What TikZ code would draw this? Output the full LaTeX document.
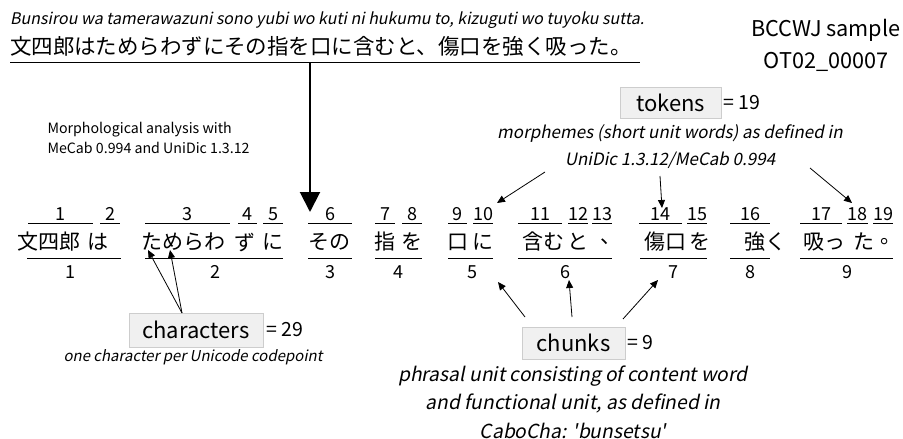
\documentclass[tikz,border=0pt]{standalone}
\usepackage{fontspec}
\setmainfont{Noto Sans CJK JP}[AutoFakeSlant=0.2]
\usepackage{tikz}
\usetikzlibrary{
    arrows.meta,
    positioning
}
\definecolor{unitfill}{RGB}{240,240,240}
\definecolor{unitline}{RGB}{205,205,205}

\begin{document}
\begin{tikzpicture}[
        x=1pt, y=-1pt,
        unit/.style={
            draw=unitline,
            fill=unitfill,
            inner sep=0pt,
            font=\fontsize{22}{24}\selectfont
        },
        count/.style={
            anchor=west,
            inner sep=0pt,
            font=\fontsize{19.5}{20}\selectfont
        },
        note/.style={
            align=center,
            inner sep=0pt,
            font=\fontsize{17}{27}\selectfont\itshape
        },
        idx/.style={
            inner sep=0pt,
            font=\fontsize{18}{20}\selectfont
        },
        word/.style={
            inner sep=0pt,
            font=\fontsize{21}{24}\selectfont
        },
        rule/.style={
            line width=1pt
        },
        pointer/.style={
            -{Triangle[length=8pt,width=7pt]},
            line width=0.8pt
        }
    ]
    \useasboundingbox (0,0) rectangle (903,439);

    % source sentence
    \node[anchor=west, inner sep=0pt, font=\fontsize{16}{18}\selectfont\itshape] (romaji) at (10,20)
        {Bunsirou wa tamerawazuni sono yubi wo kuti ni hukumu to, kizuguti wo tuyoku sutta.};
    \node[anchor=west, inner sep=0pt, font=\fontsize{21.5}{24}\selectfont] (sentence) at (10,46)
        {文四郎はためらわずにその指を口に含むと、傷口を強く吸った。};
    \coordinate (ulstart) at (10,62);
    \coordinate (ulend) at (640,62);
    \draw[rule] (ulstart) -- (ulend);

    \node[align=center, font=\fontsize{21.7}{32}\selectfont] (corpus) at (826,45)
        {BCCWJ sample\\OT02\_00007};

    \node[anchor=west, align=left, font=\fontsize{14.2}{20}\selectfont] (mecab) at (44,138)
        {Morphological analysis with\\MeCab 0.994 and UniDic 1.3.12};

    \coordinate (split) at (310,62);
    \coordinate (rowtop) at (310,212);
    \draw[line width=2pt, -{Triangle[length=20pt,width=20pt]}] (split) -- (rowtop);

    % tokens: line from, line to, text centre, text
    \foreach \i/\a/\b/\wx/\w in {
            1/28/93/49/文四郎, 2/100/120/98/は, 3/145/230/183/ためらわ,
            4/238/257/245/ず, 5/263/283/273/に, 6/308/352/329/その,
            7/375/395/385/指, 8/402/422/412/を, 9/448/467/458/口,
            10/473/493/483/に, 11/518/562/543/含む, 12/568/588/578/と,
            13/592/612/611/、, 14/639/682/665/傷口, 15/687/707/700/を,
            16/730/770/765/強く, 17/800/842/824/吸っ, 18/847/868/864/た,
            19/873/893/891/。} {
        \draw[rule] (\a,223) -- (\b,223);
        \node[idx] (n\i) at ({(\a+\b)/2},214) {\i};
        \node[word] (w\i) at (\wx,242) {\w};
    }

    % chunks
    \foreach \i/\a/\b/\cx in {
            1/27/121/70, 2/145/283/215, 3/308/352/330,
            4/375/422/398, 5/448/493/472, 6/518/612/565,
            7/640/707/673, 8/730/770/750, 9/800/893/847} {
        \draw[rule] (\a,258) -- (\b,258);
        \node[idx] (c\i) at (\cx,272) {\i};
    }

    % tokens
    \node[unit, minimum width=101pt, minimum height=31pt] (tokens) at (670.5,102.5) {tokens};
    \node[count] (ntokens) at ([xshift=2pt]tokens.east) {= 19};
    \node[note] (tokdef) at (670,147)
        {morphemes (short unit words) as defined in\\UniDic 1.3.12/MeCab 0.994};

    \coordinate (tf1) at (545,172);
    \coordinate (tf2) at (660,176);
    \coordinate (tf3) at (810,168);
    \coordinate (tt1) at (497,203);
    \coordinate (tt2) at (662,208);
    \coordinate (tt3) at (852,203);
    \draw[pointer] (tf1) -- (tt1);
    \draw[pointer] (tf2) -- (tt2);
    \draw[pointer] (tf3) -- (tt3);

    % characters
    \node[unit, minimum width=134pt, minimum height=34pt] (chars) at (196,330) {characters};
    \node[count] (nchars) at ([xshift=3pt]chars.east) {= 29};
    \node[note, font=\fontsize{15}{20}\selectfont\itshape] (chardef) at (193,357)
        {one character per Unicode codepoint};

    \coordinate (cf) at (182,313);
    \coordinate (ct1) at (148,250);
    \coordinate (ct2) at (170,250);
    \draw[pointer] (cf) -- (ct1);
    \draw[pointer] (cf) -- (ct2);

    % chunks
    \node[unit, minimum width=103pt, minimum height=32pt] (chunks) at (573.5,343) {chunks};
    \node[count] (nchunks) at ([xshift=2pt]chunks.east) {= 9};
    \node[note, font=\fontsize{19.3}{28.5}\selectfont\itshape] (chunkdef) at (573,402)
        {phrasal unit consisting of content word\\and functional unit, as defined in\\CaboCha: \textquotesingle bunsetsu\textquotesingle};

    \coordinate (bf1) at (525,317);
    \coordinate (bf2) at (572,317);
    \coordinate (bf3) at (623,319);
    \coordinate (bt1) at (498,282);
    \coordinate (bt2) at (569,280);
    \coordinate (bt3) at (658,280);
    \draw[pointer] (bf1) -- (bt1);
    \draw[pointer] (bf2) -- (bt2);
    \draw[pointer] (bf3) -- (bt3);

\end{tikzpicture}
\end{document}
